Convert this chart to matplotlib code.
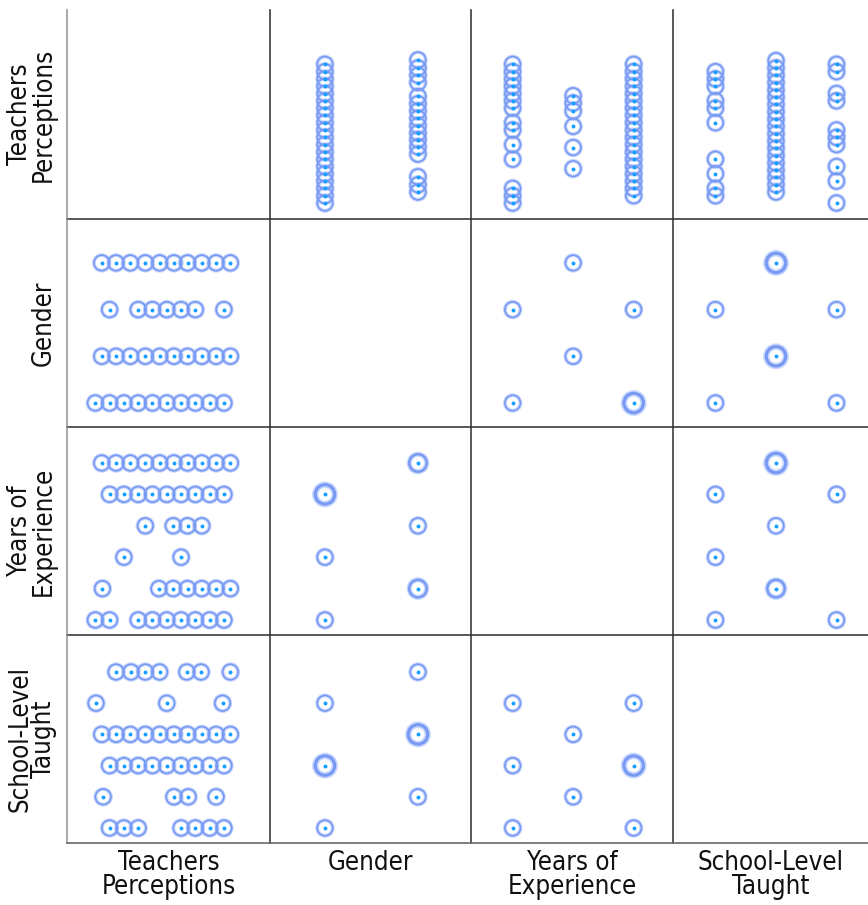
import numpy as np
import matplotlib.pyplot as plt

plt.rcParams['font.family'] = ['DejaVu Sans']

names = ['Teachers\nPerceptions', 'Gender', 'Years of\nExperience', 'School-Level\nTaught']

# top row: teachers perceptions (y) against each grouping variable (x)
tp_gender1 = [40, 41, 42, 43, 44, 45, 46, 47, 48, 49, 50, 51, 52, 53, 54, 55, 56, 57, 58, 59]
tp_gender2 = [41.5, 42.5, 43.6, 46.7, 47.7, 48.7, 49.6, 50.6, 51.6, 52.6, 53.6, 54.6, 56.5, 57.5, 58.5, 59.6]
tp_years1 = [40, 41, 42, 46, 48, 50, 51, 53, 54, 55, 56, 57, 58, 59]
tp_years2 = [44.7, 47.6, 50.5, 52.6, 53.7, 54.7]
tp_years3 = [41, 42, 43, 44, 45, 46, 47, 48, 49, 50, 51, 52, 53, 54, 55, 56, 57, 58, 59]
tp_school1 = [41, 42, 44, 46, 51, 53, 54, 56, 57, 58]
tp_school2 = [41.5, 42.5, 43.5, 44.5, 45.5, 46.5, 47.5, 48.5, 49.5, 50.5, 51.5, 52.5, 53.5,
              54.5, 55.5, 56.5, 57.5, 58.5, 59.5]
tp_school3 = [40, 43, 45, 48, 49, 50, 54, 55, 58, 59]

# first column: teachers perceptions (x) for each level of the row variable
gender_tp = {
    4: [40.45, 41.45, 42.45, 43.5, 44.5, 45.5, 46.45, 47.45, 48.45, 49.45],
    3: [41, 43, 44, 45, 46, 47, 49],
    2: [40.45, 41.45, 42.45, 43.5, 44.5, 45.5, 46.45, 47.45, 48.45, 49.45],
    1: [40, 41, 42, 43, 44, 45, 46, 47, 48, 49],
}
years_tp = {
    6: [40.45, 41.45, 42.45, 43.5, 44.5, 45.5, 46.45, 47.45, 48.45, 49.45],
    5: [41, 42, 43, 44, 45, 46, 47, 48, 49],
    4: [43.5, 45.45, 46.45, 47.45],
    3: [42, 46],
    2: [40.5, 44.45, 45.45, 46.45, 47.45, 48.45, 49.45],
    1: [40, 41, 43, 44, 45, 46, 47, 48, 49],
}
school_tp = {
    6: [41.45, 42.5, 43.5, 44.5, 46.4, 47.4, 49.45],
    5: [40.05, 45, 48.9],
    4: [40.45, 41.45, 42.45, 43.5, 44.5, 45.5, 46.45, 47.45, 48.45, 49.45],
    3: [41, 42, 43, 44, 45, 46, 47, 48, 49],
    2: [40.55, 45.5, 46.5, 48.45],
    1: [41, 42, 43, 46, 47, 48, 49],
}

# category x category panels (x code, y code, number of cases)
gen_yrs_x = [1, 1, 2, 2, 3, 3]
gen_yrs_y = [3, 1, 4, 2, 3, 1]
gen_yrs_n = [1, 1, 1, 1, 1, 3]

gen_sch_x = [1, 1, 2, 2, 3, 3]
gen_sch_y = [3, 1, 4, 2, 3, 1]
gen_sch_n = [1, 1, 3, 3, 1, 1]

yrs_gen_x = [2, 1, 2, 1, 2, 1]
yrs_gen_y = [6, 5, 4, 3, 2, 1]
yrs_gen_n = [2, 3, 1, 1, 2, 1]

yrs_sch_x = [2, 1, 3, 2, 1, 2, 1, 3]
yrs_sch_y = [6, 5, 5, 4, 3, 2, 1, 1]
yrs_sch_n = [3, 1, 1, 1, 1, 2, 1, 1]

sch_gen_x = [2, 1, 2, 1, 2, 1]
sch_gen_y = [6, 5, 4, 3, 2, 1]
sch_gen_n = [1, 1, 3, 3, 1, 1]

sch_yrs_x = [1, 3, 2, 1, 3, 2, 1, 3]
sch_yrs_y = [5, 5, 4, 3, 3, 2, 1, 1]
sch_yrs_n = [1, 1, 1, 1, 3, 1, 1, 1]

W, H = 868, 905
fig = plt.figure(figsize=(W / 100, H / 100), dpi=100)

col_px = [(67, 270), (270, 471), (471, 673), (673, 868)]
row_px = [(10, 219), (219, 427), (427, 635), (635, 843)]
xlims = [(38.02, 52.22), (0.409, 2.570), (0.311, 3.65), (0.298, 3.52)]
ylims = [(37.81, 66.44), (0.486, 4.94), (0.522, 7.146), (0.519, 7.186)]

axes = {}
for r in range(4):
    for c in range(4):
        x0, x1 = col_px[c]
        y0, y1 = row_px[r]
        ax = fig.add_axes([x0 / W, 1 - y1 / H, (x1 - x0) / W, (y1 - y0) / H])
        ax.set_xlim(xlims[c])
        ax.set_ylim(ylims[r])
        ax.set_xticks([])
        ax.set_yticks([])
        ax.patch.set_alpha(0)
        ax.spines['top'].set_visible(False)
        ax.spines['right'].set_visible(False)
        ax.spines['left'].set_color('#9a9a9a' if c == 0 else '#3c3c3c')
        ax.spines['bottom'].set_color('#6a6a6a' if r == 3 else '#3c3c3c')
        ax.spines['left'].set_linewidth(1.2)
        ax.spines['bottom'].set_linewidth(1.2)
        axes[r, c] = ax


def rings(ax, x, y, n=None):
    x = np.asarray(x, float)
    y = np.asarray(y, float)
    n = np.ones_like(x) if n is None else np.asarray(n, float)
    d = 11.2 + 1.4 * (n - 1)
    ax.scatter(x, y, s=d ** 2, facecolors='none', edgecolors='#a9c1fb',
               linewidths=2.8 + 0.9 * (n - 1), alpha=0.65, zorder=2, clip_on=False)
    ax.scatter(x, y, s=d ** 2, facecolors='none', edgecolors='#7799f3',
               linewidths=1.2 + 0.5 * (n - 1), zorder=3, clip_on=False)
    ax.scatter(x, y, s=8, color='#139fff', linewidths=0, zorder=4, clip_on=False)


# row 0: teachers perceptions on y
for code, vals in [(1, tp_gender1), (2, tp_gender2)]:
    rings(axes[0, 1], [code] * len(vals), vals)
for code, vals in [(1, tp_years1), (2, tp_years2), (3, tp_years3)]:
    rings(axes[0, 2], [code] * len(vals), vals)
for code, vals in [(1, tp_school1), (2, tp_school2), (3, tp_school3)]:
    rings(axes[0, 3], [code] * len(vals), vals)

# column 0: teachers perceptions on x
for r, table in [(1, gender_tp), (2, years_tp), (3, school_tp)]:
    for code, vals in table.items():
        rings(axes[r, 0], vals, [code] * len(vals))

rings(axes[1, 2], gen_yrs_x, gen_yrs_y, gen_yrs_n)
rings(axes[1, 3], gen_sch_x, gen_sch_y, gen_sch_n)
rings(axes[2, 1], yrs_gen_x, yrs_gen_y, yrs_gen_n)
rings(axes[2, 3], yrs_sch_x, yrs_sch_y, yrs_sch_n)
rings(axes[3, 1], sch_gen_x, sch_gen_y, sch_gen_n)
rings(axes[3, 2], sch_yrs_x, sch_yrs_y, sch_yrs_n)

lab = dict(multialignment='center', fontsize=18.5, linespacing=0.88,
           color='#111111', fontstretch='condensed')
for i, name in enumerate(names):
    y0, y1 = row_px[i]
    fig.text(57 / W, 1 - (y0 + y1) / 2 / H, name, rotation=90, ha='right', va='center', **lab)
    x0, x1 = col_px[i]
    fig.text((x0 + x1) / 2 / W, 1 - 850 / H, name, ha='center', va='top', **lab)

fig.savefig('out.png', dpi=100)
